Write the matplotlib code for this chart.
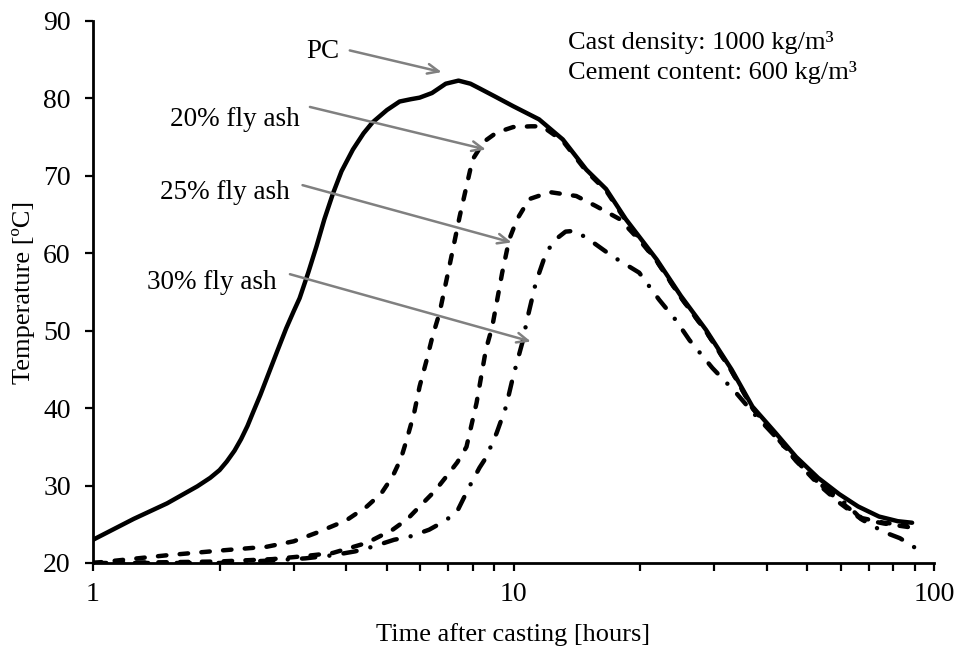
import matplotlib
matplotlib.use("Agg")
import matplotlib.pyplot as plt

plt.rcParams['font.family'] = ['Liberation Serif', 'DejaVu Serif']

# ---- data ----
pc_x = [1.0, 1.25, 1.5, 1.77, 1.9, 2.0, 2.08, 2.17, 2.25, 2.33, 2.40, 2.5, 2.6, 2.74, 2.88,
        3.0, 3.1, 3.25, 3.4, 3.55, 3.72, 3.9, 4.15, 4.4, 4.62, 5.0, 5.36, 5.7, 5.98, 6.4,
        6.9, 7.4, 7.9, 8.3, 9.0, 9.98, 11.5, 13.1, 14.9, 16.6, 18.5, 21.9, 25.0, 28.7,
        33.0, 37.0, 42.0, 47.0, 53.0, 59.5, 66.0, 74.0, 82.0, 88.7]
pc_y = [23.0, 25.7, 27.7, 29.9, 31.0, 32.0, 33.1, 34.5, 36.0, 37.7, 39.4, 41.7, 44.1, 47.3, 50.3,
        52.5, 54.2, 57.5, 60.9, 64.4, 67.7, 70.6, 73.4, 75.5, 76.9, 78.5, 79.6, 79.9, 80.1, 80.7,
        81.9, 82.3, 81.9, 81.3, 80.3, 79.0, 77.3, 74.7, 70.8, 68.3, 64.4, 59.2, 54.5, 50.1,
        45.0, 40.2, 36.8, 33.7, 31.0, 28.9, 27.3, 26.0, 25.4, 25.2]

fa20_x = [1.0, 1.5, 2.0, 2.59, 3.0, 3.4, 4.0, 4.48, 4.85, 5.16, 5.4, 5.57, 5.8, 5.98, 6.2, 6.42,
          6.67, 7.05, 7.45, 7.99, 8.5, 9.12, 9.98, 11.0, 11.7, 13.1, 14.9, 16.6, 18.5, 21.9,
          25.0, 28.7, 33.0, 37.0, 42.0, 47.0, 53.0, 59.5, 67.4, 76.0, 86.0]
fa20_y = [20.0, 21.0, 21.6, 22.1, 22.8, 23.9, 25.5, 27.3, 29.0, 31.2, 33.5, 35.9, 39.3, 42.8, 46.0, 49.3,
          52.3, 58.5, 64.8, 72.1, 74.4, 75.6, 76.3, 76.4, 76.4, 74.5, 70.6, 68.1, 64.2,
          59.0, 54.3, 49.9, 44.8, 40.0, 36.5, 33.3, 30.4, 28.0, 25.8, 25.2, 24.9]

fa25_x = [1.0, 1.5, 2.0, 2.67, 3.2, 3.72, 4.48, 5.16, 5.6, 5.98, 6.5, 6.93, 7.35, 7.73, 8.17,
          8.6, 8.9, 9.4, 9.77, 10.2, 10.9, 12.2, 14.1, 15.7, 17.9, 20.0, 21.9, 25.0, 28.7, 33.0,
          37.0, 42.0, 47.0, 53.0, 59.5, 67.0, 76.0, 88.0]
fa25_y = [20.0, 20.1, 20.2, 20.5, 20.9, 21.3, 22.6, 24.3, 25.7, 27.3, 29.3, 31.2, 33.0, 35.0, 40.7,
          47.6, 50.5, 57.5, 61.8, 64.4, 67.0, 67.9, 67.4, 66.1, 64.4, 61.6, 59.0, 54.3, 49.9, 44.8,
          40.0, 36.4, 33.2, 30.2, 27.8, 25.7, 25.1, 24.6]

fa30_x = [1.0, 2.0, 2.6, 3.2, 3.72, 4.2, 4.62, 5.2, 5.66, 6.3, 6.8, 7.32, 7.86, 8.3, 8.6, 9.12,
          9.6, 9.98, 10.5, 10.8, 11.3, 11.96, 12.6, 13.3, 14.0, 15.1, 17.2, 19.9, 22.2, 24.3,
          26.2, 29.7, 33.8, 37.0, 42.0, 47.0, 53.0, 61.9, 67.4, 76.0, 83.0, 90.6]
fa30_y = [20.0, 20.0, 20.3, 20.6, 21.0, 21.5, 22.1, 23.0, 23.4, 24.3, 25.3, 26.5, 29.9, 32.3, 33.6, 36.8,
          40.2, 44.1, 48.5, 51.7, 56.2, 60.1, 61.8, 62.8, 62.9, 61.8, 59.6, 57.5, 54.0, 51.4,
          48.8, 45.2, 42.0, 39.5, 36.3, 33.2, 30.4, 27.6, 25.6, 24.0, 23.2, 21.9]

labels = ["PC", "20% fly ash", "25% fly ash", "30% fly ash"]
label_xy = [(3.86, 86.1), (3.10, 77.3), (2.94, 67.9), (2.74, 56.2)]
arrow_tail = [(4.08, 86.2), (3.28, 78.9), (3.15, 68.8), (2.94, 57.3)]
arrow_head = [(6.75, 83.4), (8.6, 73.4), (9.9, 61.4), (11.0, 48.6)]

info_lines = ["Cast density: 1000 kg/m³", "Cement content: 600 kg/m³"]

x_ticks = [1, 10, 100]
y_ticks = [20, 30, 40, 50, 60, 70, 80, 90]

# ---- figure ----
fig = plt.figure(figsize=(9.58, 6.5), dpi=100)
ax = fig.add_axes([93/958, 1-563/650, (934-93)/958, (563-21)/650])

lw = 3.2
ax.plot(pc_x, pc_y, color='black', lw=lw, solid_capstyle='round', solid_joinstyle='round')
ax.plot(fa20_x, fa20_y, color='black', lw=lw, dashes=(1.9, 3.0), dash_capstyle='round')
ax.plot(fa25_x, fa25_y, color='black', lw=lw, dashes=(1.9, 3.0), dash_capstyle='round')
ax.plot(fa30_x, fa30_y, color='black', lw=lw, dashes=(3.0, 3.2, 0.01, 3.2), dash_capstyle='round')

ax.set_xscale('log')
ax.set_xlim(1, 100)
ax.set_ylim(20, 90)
ax.set_xticks(x_ticks)
ax.set_xticklabels([str(t) for t in x_ticks])
ax.set_yticks(y_ticks)
ax.set_yticklabels([str(t) for t in y_ticks])

for s in ['top', 'right']:
    ax.spines[s].set_visible(False)
for s in ['left', 'bottom']:
    ax.spines[s].set_linewidth(2.0)

ax.tick_params(axis='both', which='major', direction='out', length=6, width=1.6,
               labelsize=20, pad=10)
ax.tick_params(axis='x', which='minor', direction='out', length=6, width=1.6)
ax.tick_params(axis='x', which='major', pad=8)

ax.set_xlabel("Time after casting [hours]", fontsize=19, labelpad=11)
ax.set_ylabel("Temperature [ºC]", fontsize=19, labelpad=6)

for lab, (tx, ty), tail, head in zip(labels, label_xy, arrow_tail, arrow_head):
    ax.text(tx, ty, lab, fontsize=19.5, ha='right', va='center')
    ax.annotate("", xy=head, xytext=tail,
                arrowprops=dict(arrowstyle='->,head_length=0.8,head_width=0.35',
                                color='#808080', lw=1.8, shrinkA=0, shrinkB=0))

ax.text(568/958, 1-42/650, info_lines[0], transform=fig.transFigure,
        fontsize=19, ha='left', va='center')
ax.text(568/958, 1-72/650, info_lines[1], transform=fig.transFigure,
        fontsize=19, ha='left', va='center')

fig.savefig("out.png", dpi=100)
